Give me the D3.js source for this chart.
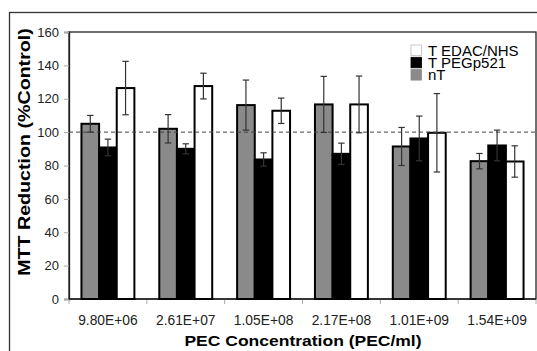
<!DOCTYPE html>
<html>
<head>
<meta charset="utf-8">
<script src="https://cdn.jsdelivr.net/npm/d3@7"></script>
<style>
  body { margin: 0; background: #fff; }
  svg { display: block; font-family: "Liberation Sans", Arial, sans-serif; }
</style>
</head>
<body>
<svg width="537" height="351"></svg>
<script>
const categories = ['9.80E+06', '2.61E+07', '1.05E+08', '2.17E+08', '1.01E+09', '1.54E+09'];
const seriesNames = ['nT', 'T PEGp521', 'T EDAC/NHS'];
const nTValues = [105, 102, 116.2, 116.6, 91.4, 82.6];
const nTErrors = [5, 8.5, 15, 16.8, 11.4, 4.6];
const pegValues = [90.8, 90, 83.6, 87, 96.2, 92];
const pegErrors = [5, 3, 4, 6.4, 13.4, 9.2];
const edacValues = [126.4, 127.6, 112.8, 116.6, 99.6, 82.4];
const edacErrors = [16, 7.7, 7.6, 17, 23.5, 9.4];
const yTicks = [0, 20, 40, 60, 80, 100, 120, 140, 160];

const fills = {'nT': '#8a8a8a', 'T PEGp521': '#000', 'T EDAC/NHS': '#fff'};
const series = [
  {name: 'nT', values: nTValues, errors: nTErrors},
  {name: 'T PEGp521', values: pegValues, errors: pegErrors},
  {name: 'T EDAC/NHS', values: edacValues, errors: edacErrors}
];

const svg = d3.select('svg');
const plotLeft = 69, plotRight = 536, plotTop = 32, plotBottom = 299;

// outer frame
svg.append('rect')
  .attr('x', 9.5).attr('y', 12.5)
  .attr('width', 540).attr('height', 350)
  .attr('fill', 'none').attr('stroke', '#333').attr('stroke-width', 1.3);

const x0 = d3.scaleBand().domain(categories).range([plotLeft, plotRight])
  .paddingInner(0.32).paddingOuter(0.16);
const x1 = d3.scaleBand().domain(seriesNames).range([0, x0.bandwidth()]);
const y = d3.scaleLinear().domain([0, 160]).range([plotBottom, plotTop]);

// plot frame
svg.append('rect')
  .attr('x', plotLeft).attr('y', plotTop)
  .attr('width', plotRight - plotLeft).attr('height', plotBottom - plotTop)
  .attr('fill', 'none').attr('stroke', '#222').attr('stroke-width', 1.3);

// y axis
const yAxis = svg.append('g')
  .attr('transform', `translate(${plotLeft},0)`)
  .call(d3.axisLeft(y).tickValues(yTicks).tickSize(5).tickPadding(5));
yAxis.select('.domain').attr('stroke', '#222').attr('stroke-width', 1.3);
yAxis.selectAll('.tick line').attr('stroke', '#aaa');
yAxis.selectAll('.tick text').attr('font-size', 13).attr('fill', '#222');

// x axis
const step = x0.step();
const boundaries = d3.range(categories.length + 1).map(i => plotLeft + i * step);
svg.append('g').selectAll('line')
  .data(boundaries).enter().append('line')
  .attr('x1', d => d).attr('x2', d => d)
  .attr('y1', plotBottom).attr('y2', plotBottom + 5)
  .attr('stroke', '#aaa');
svg.append('line')
  .attr('x1', plotLeft).attr('x2', plotRight)
  .attr('y1', plotBottom).attr('y2', plotBottom)
  .attr('stroke', '#222').attr('stroke-width', 1.3);
svg.append('g').selectAll('text')
  .data(categories).enter().append('text')
  .attr('x', d => x0(d) + x0.bandwidth() / 2)
  .attr('y', 325)
  .attr('text-anchor', 'middle')
  .attr('font-size', 13.8)
  .attr('fill', '#222')
  .text(d => d);

// bars
const groups = svg.append('g').selectAll('g')
  .data(series).enter().append('g');

groups.selectAll('rect')
  .data(s => s.values.map((v, i) => ({name: s.name, cat: categories[i], v: v, e: s.errors[i]})))
  .enter().append('rect')
  .attr('x', d => x0(d.cat) + x1(d.name))
  .attr('y', d => y(d.v))
  .attr('width', x1.bandwidth())
  .attr('height', d => y(0) - y(d.v))
  .attr('fill', d => fills[d.name])
  .attr('stroke', '#000')
  .attr('stroke-width', 2);

// reference line at 100
svg.append('line')
  .attr('x1', plotLeft).attr('x2', plotRight)
  .attr('y1', y(100)).attr('y2', y(100))
  .attr('stroke', '#444').attr('stroke-width', 1)
  .attr('stroke-dasharray', '4,3');

// error bars
const errData = [];
series.forEach(s => s.values.forEach((v, i) => errData.push({name: s.name, cat: categories[i], v: v, e: s.errors[i]})));
const eb = svg.append('g').selectAll('g')
  .data(errData).enter().append('g')
  .attr('stroke', '#333').attr('stroke-width', 1.2);
const cx = d => x0(d.cat) + x1(d.name) + x1.bandwidth() / 2;
eb.append('line')
  .attr('x1', cx).attr('x2', cx)
  .attr('y1', d => y(d.v + d.e)).attr('y2', d => y(d.v - d.e));
eb.append('line')
  .attr('x1', d => cx(d) - 3.2).attr('x2', d => cx(d) + 3.2)
  .attr('y1', d => y(d.v + d.e)).attr('y2', d => y(d.v + d.e));
eb.append('line')
  .attr('x1', d => cx(d) - 3.2).attr('x2', d => cx(d) + 3.2)
  .attr('y1', d => y(d.v - d.e)).attr('y2', d => y(d.v - d.e));

// legend
const legendOrder = ['T EDAC/NHS', 'T PEGp521', 'nT'];
const leg = svg.append('g').selectAll('g')
  .data(legendOrder).enter().append('g')
  .attr('transform', (d, i) => `translate(411,${45 + i * 12.3})`);
leg.append('rect')
  .attr('width', 10.5).attr('height', 10.5)
  .attr('fill', d => fills[d])
  .attr('stroke', d => d === 'T EDAC/NHS' ? '#bbb' : fills[d])
  .attr('stroke-width', 0.8);
leg.append('text')
  .attr('x', 17).attr('y', 10.5)
  .attr('font-size', 15)
  .attr('fill', '#000')
  .text(d => d);

// axis titles
svg.append('text')
  .attr('transform', 'translate(303,346) scale(1.13,1)')
  .attr('text-anchor', 'middle')
  .attr('font-size', 15.5)
  .attr('font-weight', 'bold')
  .text('PEC Concentration (PEC/ml)');
svg.append('text')
  .attr('transform', 'translate(30,152) rotate(-90) scale(1.17,1)')
  .attr('text-anchor', 'middle')
  .attr('font-size', 16.8)
  .attr('font-weight', 'bold')
  .text('MTT Reduction (%Control)');
</script>
</body>
</html>
